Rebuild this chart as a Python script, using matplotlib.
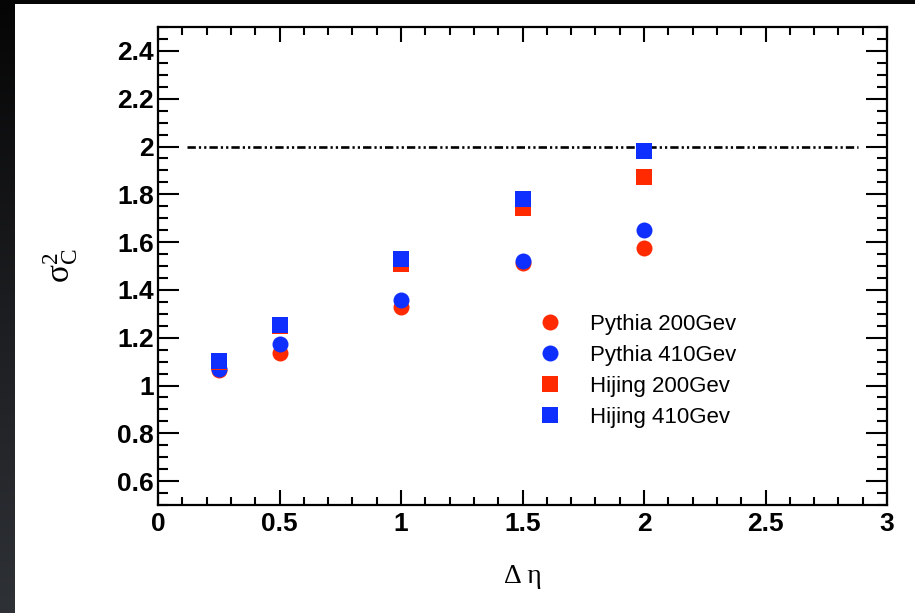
import matplotlib
matplotlib.use('Agg')
import matplotlib.pyplot as plt
import numpy as np
from matplotlib.ticker import MultipleLocator, FuncFormatter

plt.rcParams['mathtext.fontset'] = 'custom'
plt.rcParams['mathtext.rm'] = 'Liberation Serif'
plt.rcParams['mathtext.it'] = 'Liberation Serif:italic'
plt.rcParams['lines.scale_dashes'] = False

# delta eta window and the measured sigma_c^2 for each generator / energy
eta = [0.25, 0.5, 1.0, 1.5, 2.0]
pythia_200 = [1.064, 1.136, 1.330, 1.513, 1.577]
pythia_410 = [1.071, 1.173, 1.359, 1.520, 1.649]
hijing_200 = [1.098, 1.250, 1.508, 1.742, 1.872]
hijing_410 = [1.102, 1.255, 1.531, 1.780, 1.982]
labels = ['Pythia 200Gev', 'Pythia 410Gev', 'Hijing 200Gev', 'Hijing 410Gev']

# poisson reference line
ref_x = [0.12, 2.88]
ref_y = 2.0

red = '#ff2a00'
blue = '#0f2fff'

W, H = 915, 613
fig = plt.figure(figsize=(W / 100, H / 100), dpi=100)
fig.patch.set_facecolor('white')

# dark slide border on the left and top
strip = fig.add_axes([0, 0, 15 / W, 1])
grad = np.linspace(0, 1, 256).reshape(-1, 1)
strip.imshow(grad, aspect='auto', cmap=matplotlib.colors.LinearSegmentedColormap.from_list(
    'edge', ['#050505', '#1c1d20', '#2e3136']), origin='upper')
strip.set_axis_off()
top = fig.add_axes([0, 1 - 4 / H, 1, 4 / H])
top.set_facecolor('#050505')
top.set_xticks([])
top.set_yticks([])
for s in top.spines.values():
    s.set_visible(False)

ax = fig.add_axes([158 / W, 1 - 505 / H, (887 - 158) / W, (505 - 27) / H])

ms = 11.5
ax.plot(eta, pythia_200, 'o', color=red, ms=ms, mew=0, label=labels[0])
ax.plot(eta, pythia_410, 'o', color=blue, ms=ms, mew=0, label=labels[1])
ax.plot(eta, hijing_200, 's', color=red, ms=ms, mew=0, label=labels[2])
ax.plot(eta, hijing_410, 's', color=blue, ms=ms, mew=0, label=labels[3])

ln, = ax.plot(ref_x, [ref_y, ref_y], color='black', lw=1.9, zorder=1)
ln.set_dashes([6, 2.2, 1.6, 2.2, 1.6, 2.2])

ax.set_xlim(0, 3)
ax.set_ylim(0.5, 2.5)

ax.xaxis.set_major_locator(MultipleLocator(0.5))
ax.xaxis.set_minor_locator(MultipleLocator(0.1))
ax.yaxis.set_minor_locator(MultipleLocator(0.05))
ax.set_yticks([0.6, 0.8, 1.0, 1.2, 1.4, 1.6, 1.8, 2.0, 2.2, 2.4])
fmt = FuncFormatter(lambda v, p: ('%g' % round(v, 2)))
ax.xaxis.set_major_formatter(fmt)
ax.yaxis.set_major_formatter(fmt)

for s in ax.spines.values():
    s.set_linewidth(1.6)

ax.tick_params(axis='x', which='both', direction='in', top=True, bottom=True, width=1.5)
ax.tick_params(axis='x', which='major', length=11, pad=5)
ax.tick_params(axis='x', which='minor', length=5.5)
ax.tick_params(axis='y', which='both', direction='in', left=True, right=True, width=1.5)
ax.tick_params(axis='y', which='major', length=15, pad=3)
ax.tick_params(axis='y', which='minor', length=7.5)

for lab in ax.get_xticklabels() + ax.get_yticklabels():
    lab.set_fontfamily('Liberation Sans')
    lab.set_fontweight('bold')
    lab.set_fontsize(19)

ax.set_xlabel('Δ η', fontfamily='Liberation Serif', fontsize=20, labelpad=20)
ax.set_ylabel(r'$\mathrm{σ}^{2}_{\mathrm{C}}$', fontsize=24, labelpad=27)

leg = ax.legend(loc='upper left', bbox_to_anchor=(539 / W, 1 - 314 / H),
                bbox_transform=fig.transFigure, frameon=False, borderpad=0,
                borderaxespad=0, handlelength=1.0, handletextpad=1.3,
                labelspacing=0.45, prop={'family': 'Liberation Sans', 'size': 16})

fig.savefig('out.png', dpi=100)
